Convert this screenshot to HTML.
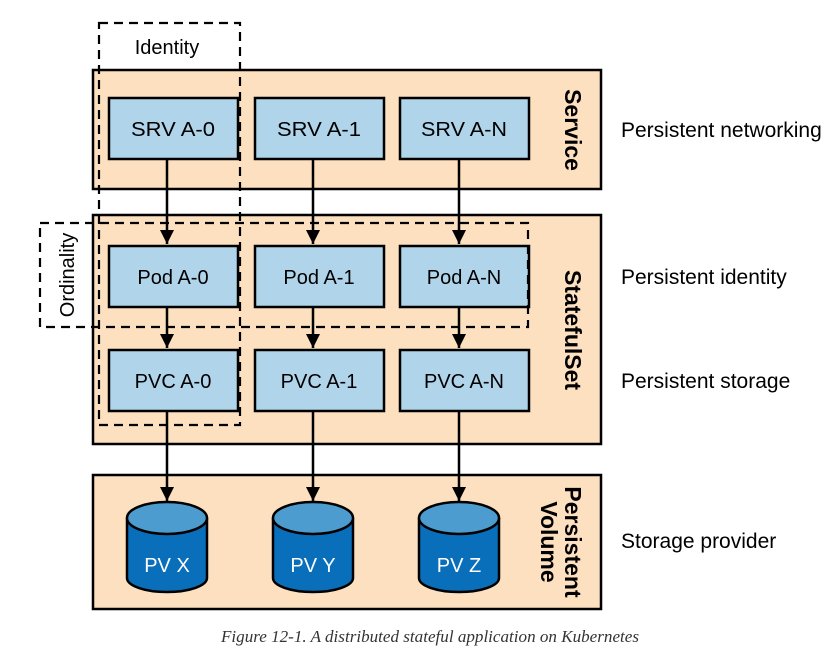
<!DOCTYPE html>
<html><head><style>body{margin:0;background:#fff}</style></head><body>
<svg width="838" height="665" xmlns="http://www.w3.org/2000/svg" font-family="Liberation Sans, sans-serif">
<defs>
<marker id="m" markerWidth="16" markerHeight="16" refX="14" refY="7" orient="auto" markerUnits="userSpaceOnUse"><path d="M0,0 L14,7 L0,14 z" fill="#000"/></marker></defs>
<g stroke="#000" stroke-width="2.5" fill="#fce0bf">
<rect x="93" y="70" width="508" height="119"/>
<rect x="93" y="215" width="508" height="229"/>
<rect x="93" y="475" width="508" height="134"/>
</g>
<g stroke="#000" stroke-width="2.5" fill="#b0d4ea">
<rect x="109" y="98" width="129" height="61"/><rect x="255" y="98" width="129" height="61"/><rect x="400" y="98" width="129" height="61"/>
<rect x="109" y="246" width="129" height="61"/><rect x="255" y="246" width="129" height="61"/><rect x="400" y="246" width="129" height="61"/>
<rect x="109" y="350" width="129" height="61"/><rect x="255" y="350" width="129" height="61"/><rect x="400" y="350" width="129" height="61"/>
</g>
<g stroke="#000" stroke-width="2.5" marker-end="url(#m)">
<line x1="167" y1="159" x2="167" y2="244"/><line x1="313" y1="159" x2="313" y2="244"/><line x1="459" y1="159" x2="459" y2="244"/>
<line x1="167" y1="307" x2="167" y2="348"/><line x1="313" y1="307" x2="313" y2="348"/><line x1="459" y1="307" x2="459" y2="348"/>
<line x1="167" y1="411" x2="167" y2="501"/><line x1="313" y1="411" x2="313" y2="501"/><line x1="459" y1="411" x2="459" y2="501"/>
</g>
<g stroke="#000" stroke-width="2.5">
<g id="c"><path d="M127,518 L127,578 A40,14 0 0 0 207,578 L207,518" fill="#0a6fbb"/><ellipse cx="167" cy="518" rx="40" ry="16" fill="#4d9ccf"/></g>
<use href="#c" x="146"/><use href="#c" x="292"/>
</g>
<g fill="none" stroke="#000" stroke-width="2.2" stroke-dasharray="9,6">
<rect x="99" y="23" width="141" height="402"/>
<rect x="40" y="223" width="488" height="104"/>
</g>
<g font-size="20" text-anchor="middle" fill="#000">
<text x="173" y="136" textLength="84" lengthAdjust="spacingAndGlyphs">SRV A-0</text><text x="319" y="136" textLength="84" lengthAdjust="spacingAndGlyphs">SRV A-1</text><text x="464" y="136" textLength="86" lengthAdjust="spacingAndGlyphs">SRV A-N</text>
<text x="173" y="284">Pod A-0</text><text x="319" y="284">Pod A-1</text><text x="464" y="284">Pod A-N</text>
<text x="173" y="388">PVC A-0</text><text x="319" y="388">PVC A-1</text><text x="464" y="388">PVC A-N</text>
<text x="167" y="54">Identity</text>
<text transform="translate(74,275) rotate(-90)">Ordinality</text>
<g font-size="23" font-weight="bold">
<text transform="translate(565,130) rotate(90)">Service</text>
<text transform="translate(565,330) rotate(90)">StatefulSet</text>
<text transform="translate(565,542) rotate(90)">Persistent</text>
<text transform="translate(541,542) rotate(90)">Volume</text>
</g>
<g fill="#fff"><text x="167" y="572">PV X</text><text x="313" y="572">PV Y</text><text x="459" y="572">PV Z</text></g>
</g>
<g font-size="21" fill="#000">
<text x="621" y="137">Persistent networking</text>
<text x="621" y="284">Persistent identity</text>
<text x="621" y="388">Persistent storage</text>
<text x="621" y="548">Storage provider</text>
</g>
<text x="430" y="642" text-anchor="middle" font-family="Liberation Serif, serif" font-style="italic" font-size="17" fill="#333" textLength="418" lengthAdjust="spacingAndGlyphs">Figure 12-1. A distributed stateful application on Kubernetes</text>
</svg>
</body></html>
